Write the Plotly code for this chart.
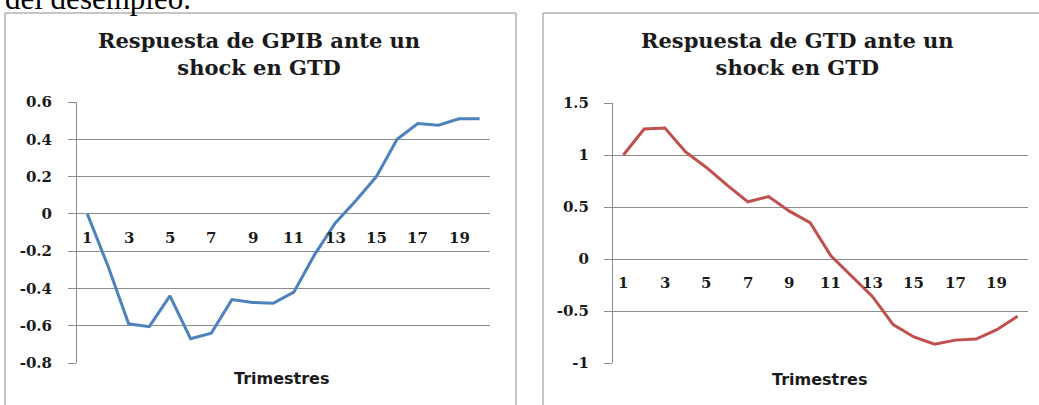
import plotly.graph_objects as go

# ---- data ----
periods = [1, 2, 3, 4, 5, 6, 7, 8, 9, 10, 11, 12, 13, 14, 15, 16, 17, 18, 19, 20]
gpib_resp = [0.0, -0.28, -0.59, -0.605, -0.44, -0.67, -0.64, -0.46, -0.475, -0.48,
             -0.42, -0.22, -0.05, 0.07, 0.20, 0.40, 0.485, 0.475, 0.51, 0.51]
gtd_resp = [1.0, 1.25, 1.26, 1.03, 0.88, 0.71, 0.55, 0.60, 0.46, 0.35,
            0.03, -0.17, -0.36, -0.63, -0.75, -0.82, -0.78, -0.77, -0.68, -0.55]
xtick_vals = [1, 3, 5, 7, 9, 11, 13, 15, 17, 19]
xtick_text = ["1", "3", "5", "7", "9", "11", "13", "15", "17", "19"]
left_yticks = [0.6, 0.4, 0.2, 0, -0.2, -0.4, -0.6, -0.8]
left_yticktext = ["0.6", "0.4", "0.2", "0", "-0.2", "-0.4", "-0.6", "-0.8"]
right_yticks = [1.5, 1, 0.5, 0, -0.5, -1]
right_yticktext = ["1.5", "1", "0.5", "0", "-0.5", "-1"]
left_title = "Respuesta de GPIB ante un<br>shock en GTD"
right_title = "Respuesta de GTD ante un<br>shock en GTD"
x_title = "Trimestres"
page_text = "del desempleo."

W, H = 1039, 405
def px(x):
    return x / W
def py(y):
    return 1 - y / H

SERIF = "DejaVu Serif"
SANS = "DejaVu Sans"
GRID = "#8c8c8c"
TXT = "#1a1a1a"

fig = go.Figure()
fig.add_trace(go.Scatter(x=periods, y=gpib_resp, mode="lines",
                         line=dict(color="#4F81BD", width=3), xaxis="x", yaxis="y",
                         showlegend=False))
fig.add_trace(go.Scatter(x=periods, y=gtd_resp, mode="lines",
                         line=dict(color="#C0504D", width=3), xaxis="x2", yaxis="y2",
                         showlegend=False))

common_x = dict(range=[0.5, 20.5], showticklabels=False, showgrid=False,
                zeroline=False, showline=False, ticks="")
common_y = dict(showgrid=True, gridcolor=GRID, gridwidth=1, zeroline=False,
                showline=True, linecolor=GRID, linewidth=1,
                ticks="outside", ticklen=8, tickcolor=GRID, tickwidth=1,
                tickfont=dict(family=SERIF, size=15, color=TXT, weight="bold"))
fig.update_layout(
    width=W, height=H,
    margin=dict(l=0, r=0, t=0, b=0, pad=0, autoexpand=False),
    paper_bgcolor="white", plot_bgcolor="white",
    xaxis=dict(domain=[px(77), px(490)], anchor="y", **common_x),
    xaxis2=dict(domain=[px(613), px(1028)], anchor="y2", **common_x),
    yaxis=dict(domain=[py(363), py(102)], anchor="x", range=[-0.8, 0.6],
               tickvals=left_yticks, ticktext=left_yticktext,
               ticklabelstandoff=13, **common_y),
    yaxis2=dict(domain=[py(363), py(103)], anchor="x2", range=[-1, 1.5],
                tickvals=right_yticks, ticktext=right_yticktext,
                ticklabelstandoff=12, **common_y),
)

annotations = []
# category labels crossing at zero
for xv, xt in zip(xtick_vals, xtick_text):
    for xr, yr in (("x", "y"), ("x2", "y2")):
        annotations.append(dict(x=xv, y=0, xref=xr, yref=yr, text=xt, showarrow=False,
                                yanchor="middle", yshift=-24,
                                font=dict(family=SERIF, size=15, color=TXT, weight="bold")))
# chart titles
annotations.append(dict(x=px(259), y=py(54), xref="paper", yref="paper", text=left_title,
                        showarrow=False, xanchor="center", yanchor="middle",
                        font=dict(family=SERIF, size=21, color=TXT, weight="bold")))
annotations.append(dict(x=px(797), y=py(54), xref="paper", yref="paper", text=right_title,
                        showarrow=False, xanchor="center", yanchor="middle",
                        font=dict(family=SERIF, size=21, color=TXT, weight="bold")))
# axis titles
annotations.append(dict(x=px(282), y=py(378), xref="paper", yref="paper", text=x_title,
                        showarrow=False, xanchor="center", yanchor="middle",
                        font=dict(family=SANS, size=16, color=TXT, weight="bold")))
annotations.append(dict(x=px(820), y=py(379), xref="paper", yref="paper", text=x_title,
                        showarrow=False, xanchor="center", yanchor="middle",
                        font=dict(family=SANS, size=16, color=TXT, weight="bold")))
# cut-off text from the document above the charts
annotations.append(dict(x=px(3), y=py(-2), xref="paper", yref="paper", text=page_text,
                        showarrow=False, xanchor="left", yanchor="middle",
                        font=dict(family="Liberation Serif", size=31, color="black")))
fig.update_layout(annotations=annotations)

# chart frames
fig.add_shape(type="rect", xref="paper", yref="paper", x0=px(5), x1=px(516),
              y0=-0.1, y1=py(13), line=dict(color="#8c8c8c", width=1))
fig.add_shape(type="rect", xref="paper", yref="paper", x0=px(543), x1=1.1,
              y0=-0.1, y1=py(13), line=dict(color="#8c8c8c", width=1))

fig.write_html("out.html", config={"displayModeBar": False},
               post_script="document.body.style.margin='0px';")
